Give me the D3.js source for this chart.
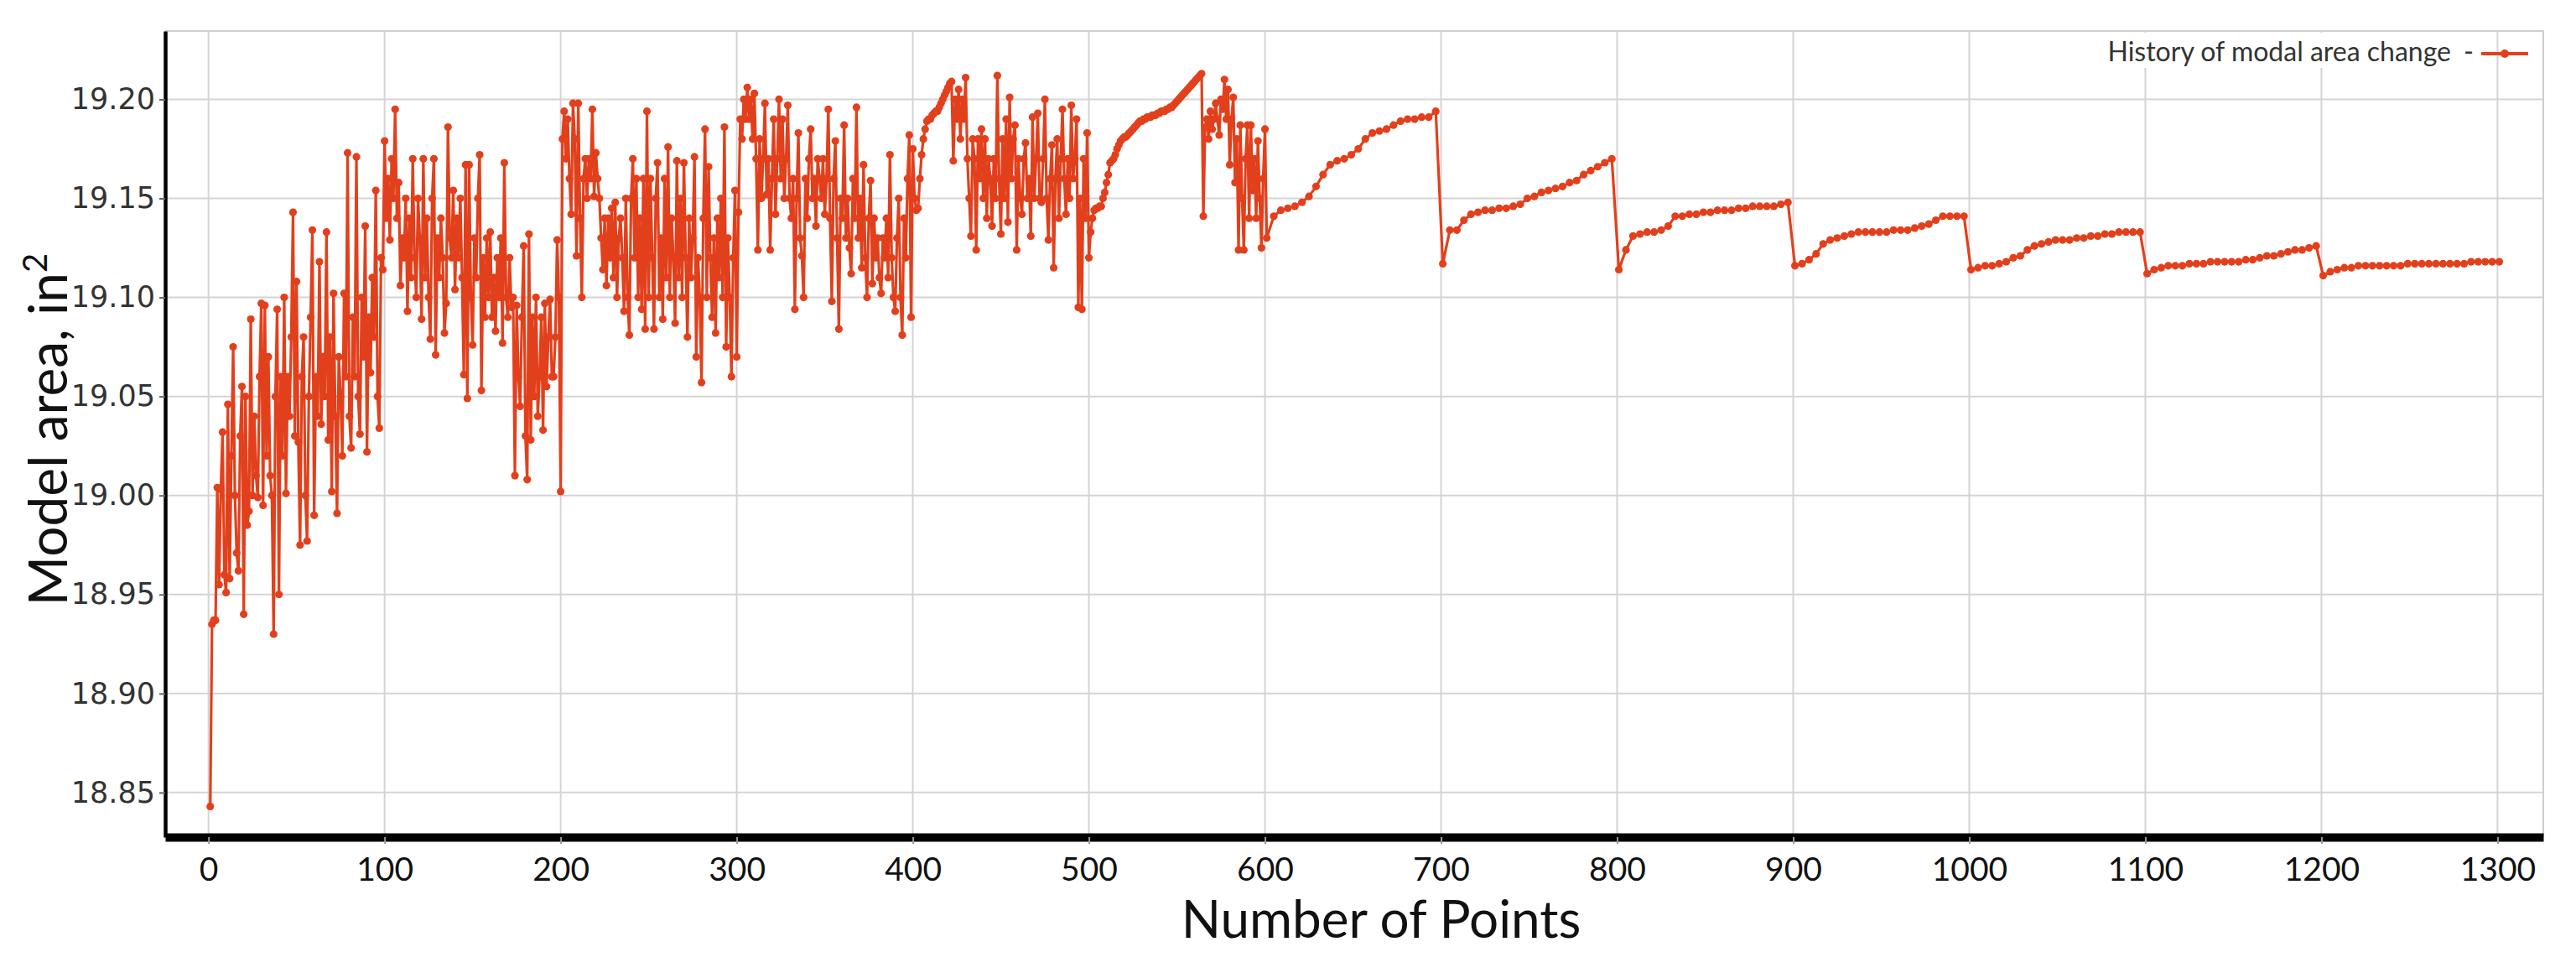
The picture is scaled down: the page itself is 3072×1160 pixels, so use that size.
<!DOCTYPE html>
<html>
<head>
<meta charset="utf-8">
<title>History of modal area change</title>
<script src="https://cdnjs.cloudflare.com/ajax/libs/d3/7.8.5/d3.min.js"></script>
<style>
	body { margin: 0; background: #fff; }
	#chartDiv { width: 3072px; height: 1160px; }
</style>
</head>
<body>
<div id="chartDiv"></div>
<script>
;(function() {

	// ---- data ----

	// model area for points 1..200 (one value per point)
	var firstStageY = [
		18.843, 18.935, 18.937, 18.937, 19.004, 18.955, 19.003, 19.032, 18.960, 18.951,
		19.046, 18.958, 19.020, 19.075, 19.000, 18.971, 18.962, 19.030, 19.055, 18.940,
		19.050, 18.985, 18.992, 19.089, 19.000, 19.040, 19.010, 18.999, 19.060, 19.097,
		18.995, 19.096, 19.020, 19.070, 19.010, 19.000, 18.930, 19.050, 19.094, 18.950,
		19.060, 19.020, 19.100, 19.001, 19.060, 19.040, 19.080, 19.143, 19.030, 19.108,
		19.027, 18.975, 19.060, 19.080, 19.000, 18.977, 19.050, 19.090, 19.134, 18.990,
		19.060, 19.040, 19.118, 19.036, 19.070, 19.050, 19.133, 19.028, 19.080, 19.002,
		19.102, 19.040, 18.991, 19.070, 19.050, 19.020, 19.102, 19.060, 19.173, 19.040,
		19.024, 19.090, 19.060, 19.171, 19.050, 19.031, 19.100, 19.070, 19.136, 19.022,
		19.090, 19.062, 19.110, 19.080, 19.154, 19.050, 19.034, 19.120, 19.114, 19.179,
		19.140, 19.160, 19.129, 19.170, 19.150, 19.195, 19.140, 19.158, 19.106, 19.130,
		19.120, 19.150, 19.093, 19.140, 19.110, 19.170, 19.120, 19.100, 19.150, 19.130,
		19.089, 19.170, 19.110, 19.140, 19.100, 19.079, 19.150, 19.170, 19.071, 19.130,
		19.110, 19.140, 19.120, 19.082, 19.097, 19.186, 19.130, 19.120, 19.154, 19.104,
		19.140, 19.120, 19.150, 19.110, 19.061, 19.167, 19.049, 19.167, 19.100, 19.076,
		19.130, 19.110, 19.150, 19.172, 19.053, 19.120, 19.090, 19.130, 19.100, 19.133,
		19.090, 19.110, 19.083, 19.120, 19.100, 19.130, 19.077, 19.168, 19.100, 19.090,
		19.120, 19.095, 19.100, 19.010, 19.096, 19.060, 19.045, 19.090, 19.126, 19.030,
		19.008, 19.132, 19.028, 19.090, 19.050, 19.100, 19.040, 19.060, 19.090, 19.033,
		19.097, 19.055, 19.080, 19.099, 19.060, 19.060, 19.080, 19.129, 19.100, 19.002
	];

	// points 201..400
	var secondStageY = [
		19.180, 19.194, 19.170, 19.190, 19.160, 19.142, 19.198, 19.180, 19.121, 19.198,
		19.140, 19.100, 19.160, 19.170, 19.150, 19.170, 19.160, 19.195, 19.151, 19.173,
		19.160, 19.150, 19.130, 19.114, 19.140, 19.106, 19.140, 19.120, 19.145, 19.110,
		19.148, 19.100, 19.130, 19.140, 19.120, 19.093, 19.150, 19.100, 19.081, 19.150,
		19.170, 19.120, 19.160, 19.100, 19.140, 19.094, 19.160, 19.084, 19.194, 19.100,
		19.160, 19.120, 19.084, 19.150, 19.168, 19.100, 19.130, 19.089, 19.160, 19.110,
		19.176, 19.100, 19.140, 19.120, 19.087, 19.169, 19.110, 19.150, 19.100, 19.168,
		19.120, 19.080, 19.140, 19.110, 19.130, 19.171, 19.070, 19.120, 19.100, 19.057,
		19.140, 19.185, 19.100, 19.166, 19.120, 19.090, 19.130, 19.082, 19.140, 19.110,
		19.150, 19.100, 19.186, 19.075, 19.130, 19.100, 19.060, 19.120, 19.154, 19.070,
		19.143, 19.190, 19.180, 19.200, 19.190, 19.206, 19.190, 19.200, 19.180, 19.203,
		19.170, 19.124, 19.180, 19.150, 19.170, 19.198, 19.152, 19.170, 19.124, 19.160,
		19.190, 19.142, 19.170, 19.200, 19.160, 19.190, 19.150, 19.170, 19.197, 19.150,
		19.140, 19.160, 19.094, 19.150, 19.183, 19.130, 19.121, 19.100, 19.160, 19.140,
		19.170, 19.185, 19.150, 19.160, 19.136, 19.170, 19.160, 19.150, 19.170, 19.142,
		19.160, 19.195, 19.140, 19.098, 19.160, 19.179, 19.130, 19.084, 19.150, 19.140,
		19.187, 19.130, 19.150, 19.125, 19.112, 19.160, 19.140, 19.196, 19.130, 19.150,
		19.115, 19.167, 19.120, 19.100, 19.140, 19.159, 19.107, 19.140, 19.120, 19.130,
		19.110, 19.102, 19.130, 19.120, 19.140, 19.110, 19.172, 19.120, 19.100, 19.093,
		19.130, 19.150, 19.100, 19.081, 19.140, 19.120, 19.160, 19.182, 19.090, 19.175
	];

	// points 401..600
	var thirdStageY = [
		19.150, 19.144, 19.145, 19.160, 19.172, 19.180, 19.185, 19.189, 19.190, 19.190,
		19.192, 19.193, 19.194, 19.194, 19.196, 19.198, 19.200, 19.202, 19.204, 19.206,
		19.208, 19.209, 19.169, 19.200, 19.190, 19.205, 19.180, 19.200, 19.190, 19.211,
		19.170, 19.150, 19.131, 19.180, 19.170, 19.124, 19.180, 19.160, 19.185, 19.150,
		19.180, 19.140, 19.170, 19.160, 19.136, 19.170, 19.150, 19.212, 19.160, 19.132,
		19.180, 19.150, 19.190, 19.138, 19.201, 19.160, 19.180, 19.187, 19.124, 19.170,
		19.150, 19.142, 19.170, 19.178, 19.150, 19.160, 19.131, 19.191, 19.150, 19.170,
		19.193, 19.150, 19.148, 19.170, 19.200, 19.150, 19.129, 19.160, 19.177, 19.115,
		19.160, 19.180, 19.140, 19.170, 19.195, 19.160, 19.142, 19.170, 19.150, 19.197,
		19.160, 19.170, 19.190, 19.095, 19.150, 19.094, 19.170, 19.140, 19.183, 19.120,
		19.133, 19.140, 19.144, 19.145, 19.145, 19.146, 19.146, 19.150, 19.153, 19.158,
		19.162, 19.168, 19.169, 19.170, 19.172, 19.175, 19.177, 19.179, 19.180, 19.181,
		19.181, 19.182, 19.183, 19.184, 19.185, 19.186, 19.187, 19.188, 19.189, 19.189,
		19.190, 19.190, 19.191, 19.191, 19.191, 19.192, 19.192, 19.192, 19.193, 19.193,
		19.194, 19.194, 19.194, 19.195, 19.195, 19.196, 19.196, 19.197, 19.198, 19.199,
		19.200, 19.201, 19.202, 19.203, 19.204, 19.205, 19.206, 19.207, 19.208, 19.209,
		19.210, 19.211, 19.212, 19.213, 19.141, 19.186, 19.190, 19.180, 19.194, 19.185,
		19.190, 19.198, 19.190, 19.182, 19.200, 19.195, 19.210, 19.190, 19.205, 19.167,
		19.190, 19.201, 19.158, 19.180, 19.124, 19.187, 19.150, 19.124, 19.170, 19.187,
		19.140, 19.187, 19.154, 19.170, 19.140, 19.179, 19.150, 19.125, 19.160, 19.185
	];

	// points 601..1301, sampled every 4th point (one row per 100-point cycle)
	var refineStart = 601;
	var refineStep = 4;
	var refineY = [
		19.130, 19.141, 19.144, 19.145, 19.146, 19.148, 19.151, 19.156, 19.162, 19.167, 19.169, 19.170, 19.172, 19.175, 19.180, 19.183, 19.184, 19.185, 19.187, 19.189, 19.190, 19.190, 19.191, 19.191, 19.194,
		19.117, 19.134, 19.134, 19.139, 19.142, 19.143, 19.144, 19.144, 19.145, 19.145, 19.146, 19.147, 19.150, 19.151, 19.153, 19.154, 19.155, 19.156, 19.158, 19.159, 19.162, 19.164, 19.166, 19.168, 19.170,
		19.114, 19.124, 19.131, 19.132, 19.133, 19.133, 19.134, 19.136, 19.141, 19.141, 19.142, 19.142, 19.143, 19.143, 19.144, 19.144, 19.144, 19.145, 19.145, 19.146, 19.146, 19.146, 19.146, 19.147, 19.148,
		19.116, 19.117, 19.119, 19.122, 19.127, 19.129, 19.130, 19.131, 19.132, 19.133, 19.133, 19.133, 19.133, 19.133, 19.134, 19.134, 19.134, 19.135, 19.136, 19.137, 19.139, 19.141, 19.141, 19.141, 19.141,
		19.114, 19.115, 19.116, 19.116, 19.117, 19.118, 19.120, 19.121, 19.124, 19.126, 19.127, 19.128, 19.129, 19.129, 19.129, 19.130, 19.130, 19.131, 19.131, 19.132, 19.132, 19.133, 19.133, 19.133, 19.133,
		19.112, 19.114, 19.115, 19.116, 19.116, 19.116, 19.117, 19.117, 19.117, 19.118, 19.118, 19.118, 19.118, 19.118, 19.119, 19.119, 19.120, 19.121, 19.121, 19.122, 19.123, 19.124, 19.124, 19.125, 19.126,
		19.111, 19.113, 19.114, 19.115, 19.115, 19.116, 19.116, 19.116, 19.116, 19.116, 19.116, 19.116, 19.117, 19.117, 19.117, 19.117, 19.117, 19.117, 19.117, 19.117, 19.117, 19.118, 19.118, 19.118, 19.118, 19.118
	];

	var xTicks = [0, 100, 200, 300, 400, 500, 600, 700, 800, 900, 1000, 1100, 1200, 1300];
	var yTicks = [18.85, 18.90, 18.95, 19.00, 19.05, 19.10, 19.15, 19.20];
	var xDomain = [-24.6, 1326];
	var yDomain = [18.8275, 19.2345];

	var xAxisLabelHeader = "Number of Points";
	var yAxisLabelHeader = "Model area, in";
	var legendLabel = "History of modal area change";

	// ---- layout ----
	var width = 3072;
	var height = 1160;
	var margin = { top: 37, right: 39, bottom: 162, left: 197 };
	var lineColor = "#e2401c";
	var circleRadius = 4.6;

	var data;
	var chart;
	var chartWidth;
	var chartHeight;

	init();

	function init() {
		chartWidth = width - margin.left - margin.right;
		chartHeight = height - margin.top - margin.bottom;

		data = buildSeries();

		initializeChart();
		createScales();
		drawGrid();
		drawLegend();
		drawLine();
		createAxes();
	}

	function buildSeries() {
		var list = [];
		firstStageY.forEach(function(v, i) { list.push({ xVal: 1 + i, yVal: v }); });
		secondStageY.forEach(function(v, i) { list.push({ xVal: 201 + i, yVal: v }); });
		thirdStageY.forEach(function(v, i) { list.push({ xVal: 401 + i, yVal: v }); });
		refineY.forEach(function(v, i) { list.push({ xVal: refineStart + i * refineStep, yVal: v }); });
		return list;
	}

	function initializeChart() {
		chart = d3.select("#chartDiv").append("svg")
			.attr("width", width)
			.attr("height", height)
			.style("background", "#fff");

		chart.plotArea = chart.append("g")
			.attr("transform", "translate(" + margin.left + "," + margin.top + ")");
	}

	function createScales() {
		chart.xScale = d3.scaleLinear()
			.domain(xDomain)
			.range([0, chartWidth]);

		chart.yScale = d3.scaleLinear()
			.domain(yDomain)
			.range([chartHeight, 0]);
	}

	function drawGrid() {
		var grid = chart.plotArea.append("g").attr("class", "grid");

		grid.selectAll(".vgrid")
			.data(xTicks)
			.enter().append("line")
			.attr("class", "vgrid")
			.attr("x1", function(d) { return chart.xScale(d); })
			.attr("x2", function(d) { return chart.xScale(d); })
			.attr("y1", 0)
			.attr("y2", chartHeight)
			.style("stroke", "#d4d4d4")
			.style("stroke-width", 2);

		grid.selectAll(".hgrid")
			.data(yTicks)
			.enter().append("line")
			.attr("class", "hgrid")
			.attr("x1", 0)
			.attr("x2", chartWidth)
			.attr("y1", function(d) { return chart.yScale(d); })
			.attr("y2", function(d) { return chart.yScale(d); })
			.style("stroke", "#d4d4d4")
			.style("stroke-width", 2);

		// light frame on top and right
		grid.append("path")
			.attr("d", "M0,0H" + chartWidth + "V" + chartHeight)
			.style("fill", "none")
			.style("stroke", "#cfcfcf")
			.style("stroke-width", 2);
	}

	function drawLegend() {
		var lg = chart.append("g").attr("class", "legend");

		// white box hides the grid under the label
		lg.append("rect")
			.attr("x", 2470)
			.attr("y", margin.top + 2)
			.attr("width", 490)
			.attr("height", 42)
			.style("fill", "#fff");

		lg.append("text")
			.attr("x", 2923)
			.attr("y", 73)
			.attr("text-anchor", "end")
			.style("font-family", "Lato, 'Open Sans', sans-serif")
			.style("font-size", "32px")
			.style("fill", "#333")
			.text(legendLabel);

		lg.append("text")
			.attr("x", 2944)
			.attr("y", 73)
			.attr("text-anchor", "middle")
			.style("font-family", "Lato, 'Open Sans', sans-serif")
			.style("font-size", "32px")
			.style("fill", "#333")
			.text("-");

		lg.append("line")
			.attr("x1", 2959).attr("x2", 3015)
			.attr("y1", 64).attr("y2", 64)
			.style("stroke", lineColor)
			.style("stroke-width", 4);

		lg.append("circle")
			.attr("cx", 2987).attr("cy", 64)
			.attr("r", 5)
			.style("fill", lineColor);
	}

	function drawLine() {
		var line = d3.line()
			.x(function(d) { return chart.xScale(d.xVal); })
			.y(function(d) { return chart.yScale(d.yVal); });

		chart.plotArea.append("path")
			.datum(data)
			.attr("class", "series")
			.attr("d", line)
			.style("fill", "none")
			.style("stroke", lineColor)
			.style("stroke-width", 3.2)
			.style("stroke-linejoin", "round");

		chart.plotArea.selectAll(".dot")
			.data(data)
			.enter().append("circle")
			.attr("class", "dot")
			.attr("cx", function(d) { return chart.xScale(d.xVal); })
			.attr("cy", function(d) { return chart.yScale(d.yVal); })
			.attr("r", circleRadius)
			.style("fill", lineColor);
	}

	function createAxes() {

		// x axis
		chart.xAxis = d3.axisBottom(chart.xScale)
			.tickValues(xTicks)
			.tickFormat(d3.format("d"))
			.tickSizeInner(8)
			.tickSizeOuter(0)
			.tickPadding(16);

		chart.xAxisContainer = chart.append("g")
			.attr("class", "x axis")
			.attr("transform", "translate(" + margin.left + ", " + (margin.top + chartHeight) + ")")
			.call(chart.xAxis);

		chart.xAxisContainer.select(".domain")
			.style("stroke", "#000")
			.style("stroke-width", 10);
		chart.xAxisContainer.selectAll(".tick line")
			.style("stroke", "#999")
			.style("stroke-width", 2);
		chart.xAxisContainer.selectAll(".tick text")
			.style("font-family", "Lato, 'Open Sans', sans-serif")
			.style("font-size", "39px")
			.style("fill", "#111");

		// x axis header label
		chart.append("text")
			.attr("text-anchor", "middle")
			.attr("x", 1647)
			.attr("y", 1118)
			.style("font-family", "Lato, 'Open Sans', sans-serif")
			.style("font-size", "62px")
			.style("fill", "#111")
			.text(xAxisLabelHeader);

		// y axis
		chart.yAxis = d3.axisLeft(chart.yScale)
			.tickValues(yTicks)
			.tickFormat(d3.format(".2f"))
			.tickSizeInner(7)
			.tickSizeOuter(0)
			.tickPadding(5);

		chart.yAxisContainer = chart.append("g")
			.attr("class", "y axis")
			.attr("transform", "translate(" + margin.left + ", " + margin.top + ")")
			.call(chart.yAxis);

		chart.yAxisContainer.select(".domain")
			.style("stroke", "#000")
			.style("stroke-width", 4.5);
		chart.yAxisContainer.selectAll(".tick line")
			.style("stroke", "#666")
			.style("stroke-width", 2);
		chart.yAxisContainer.selectAll(".tick text")
			.style("font-family", "'DejaVu Sans', Verdana, sans-serif")
			.style("font-size", "35px")
			.style("fill", "#333");

		// y axis header label with superscript
		var yLabel = chart.append("text")
			.attr("text-anchor", "middle")
			.attr("transform", "translate(80, 512) rotate(-90)")
			.style("font-family", "Lato, 'Open Sans', sans-serif")
			.style("font-size", "64px")
			.style("fill", "#111");

		yLabel.append("tspan").text(yAxisLabelHeader);
		yLabel.append("tspan")
			.attr("dy", -24)
			.style("font-size", "40px")
			.text("2");
	}

})();
</script>
</body>
</html>
